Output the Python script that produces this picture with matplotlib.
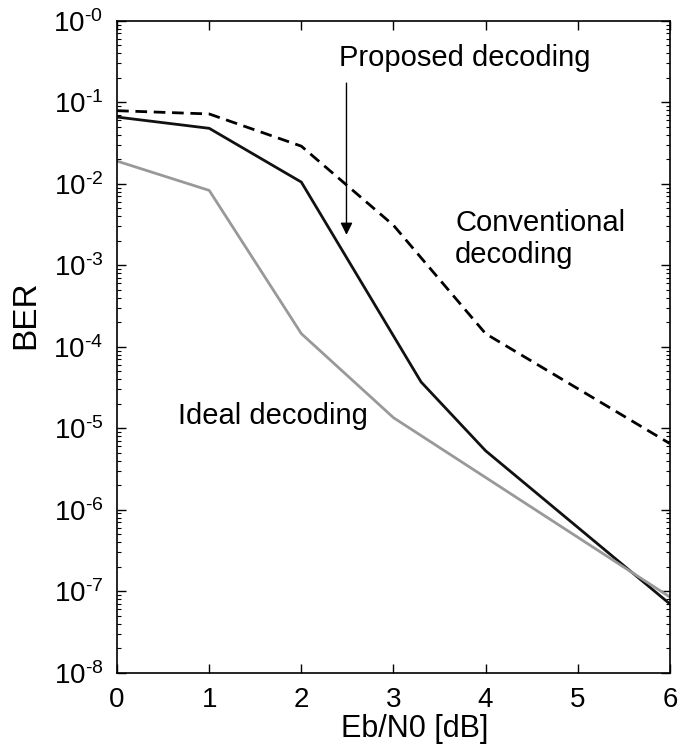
import numpy as np
import matplotlib
matplotlib.use('Agg')
import matplotlib.pyplot as plt
from matplotlib.ticker import FixedLocator, LogLocator, NullFormatter

plt.rcParams['font.family'] = ['Liberation Sans', 'DejaVu Sans']
plt.rcParams['mathtext.fontset'] = 'custom'
plt.rcParams['mathtext.rm'] = 'Liberation Sans'
plt.rcParams['mathtext.it'] = 'Liberation Sans'
plt.rcParams['mathtext.bf'] = 'Liberation Sans'

# conventional decoding (dashed)
snr_conv = [0, 1, 2, 3, 4, 6]
ber_conv = [0.079, 0.072, 0.029, 0.0031, 1.45e-4, 6.5e-6]

# proposed decoding (solid black)
snr_prop = [0, 1, 2, 3.3, 4, 6]
ber_prop = [0.066, 0.048, 0.0105, 3.7e-5, 5.3e-6, 7.0e-8]

# ideal decoding (gray)
snr_ideal = [0, 1, 2, 3, 6]
ber_ideal = [0.019, 0.0083, 1.45e-4, 1.35e-5, 8.5e-8]

xticks = [0, 1, 2, 3, 4, 5, 6]
yexps = [0, -1, -2, -3, -4, -5, -6, -7, -8]

fig = plt.figure(figsize=(6.97, 7.45), dpi=100)
ax = fig.add_axes([0.168, 0.097, 0.793, 0.875])

ax.plot(snr_conv, ber_conv, color='k', lw=2.0, ls=(0, (4.2, 2.4)))
ax.plot(snr_prop, ber_prop, color='#111111', lw=2.0)
ax.plot(snr_ideal, ber_ideal, color='#999999', lw=2.0)

ax.set_yscale('log')
ax.set_xlim(0, 6)
ax.set_ylim(1e-8, 1)

ax.set_xticks(xticks)
ax.set_xticklabels([str(v) for v in xticks])
ax.yaxis.set_major_locator(FixedLocator([10.0 ** e for e in yexps]))
ax.set_yticklabels([r'$\mathregular{10^{\text{-}%d}}$' % abs(e) for e in yexps])
ax.yaxis.set_minor_locator(LogLocator(base=10, subs=np.arange(2, 10), numticks=20))
ax.yaxis.set_minor_formatter(NullFormatter())

ax.tick_params(which='major', direction='in', length=6.5, width=1.0,
               top=True, right=True, labelsize=20)
ax.tick_params(axis='x', which='major', pad=10)
ax.tick_params(axis='y', which='major', pad=10)
ax.tick_params(which='minor', direction='in', length=3, width=0.8,
               top=True, right=True)
for s in ax.spines.values():
    s.set_linewidth(1.2)

ax.set_xlabel('Eb/N0 [dB]', fontsize=22, va='center')
ax.xaxis.set_label_coords(0.539, -0.087)
ax.set_ylabel('BER', fontsize=24, va='center')
ax.yaxis.set_label_coords(-0.165, 0.549)

ax.text(2.41, 10 ** -0.45, 'Proposed decoding', fontsize=21, va='center', ha='left')
ax.annotate('', xy=(2.49, 10 ** -2.66), xytext=(2.49, 10 ** -0.73),
            arrowprops=dict(arrowstyle='-|>', color='k', lw=1.0, mutation_scale=18))
ax.text(3.67, 10 ** -2.68, 'Conventional\ndecoding', fontsize=21, va='center',
        ha='left', linespacing=1.2)
ax.text(0.66, 10 ** -4.85, 'Ideal decoding', fontsize=21, va='center', ha='left')

fig.savefig('out.png', dpi=100)
